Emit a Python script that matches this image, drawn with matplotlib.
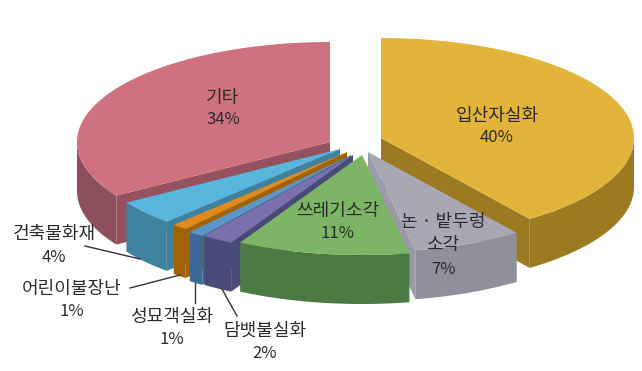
import numpy as np
import matplotlib as mpl
mpl.use('Agg')
import matplotlib.pyplot as plt
from matplotlib.patches import Polygon

plt.rcParams['font.family'] = ['Noto Sans CJK KR', 'DejaVu Sans']

# clockwise from 12 o'clock
names = ['입산자실화', '논 · 밭두렁\n소각', '쓰레기소각', '담뱃불실화', '성묘객실화', '어린이불장난', '건축물화재', '기타']
values = [40, 7, 11, 2, 1, 1, 4, 34]

# layout of the drawing, in pixels
top_colors = ['#e3b43c', '#a7a8b4', '#7cb565', '#7a70ad', '#5a97c9', '#e08a1e', '#58b5dc', '#cf727f']
side_colors = ['#9b7a22', '#8f9099', '#4b7a42', '#4a4a78', '#3b6a98', '#a36200', '#3e829f', '#8c505c']
cut_colors = ['#9b7a22', '#9a9aa8', '#4b7a42', '#4a4a78', '#3b6a98', '#a36200', '#3e829f', '#94525f']
shift_x = [381, 368, 362, 353, 351, 347, 340, 330]
shift_y = [138, 152, 155, 155, 155, 152, 149, 142]
rx = 253
ry = 100
depth = 49
label_x = [497, 443, 338, 265, 172, 72, 54, 223]
label_y = [116, 222, 211, 331, 317, 289, 234, 98]
pct_y = [138, 269, 233, 353, 340, 311, 257, 120]
lead_x = [(85, 140), (130, 180), (195, 195), (222, 237)]
lead_y = [(246, 259), (288, 275), (283, 303), (289, 316)]

fig = plt.figure(figsize=(6.42, 3.71), dpi=100)
ax = fig.add_axes([0, 0, 1, 1])
ax.set_xlim(0, 642)
ax.set_ylim(371, 0)
ax.axis('off')


def arc(i, a, b):
    t = np.radians(np.linspace(a, b, 80))
    return np.column_stack((shift_x[i] + rx*np.sin(t), shift_y[i] - ry*np.cos(t)))


def extrude(pts):
    low = pts[::-1] + np.array([0, depth])
    return np.vstack((pts, low))


edges = np.concatenate(([0], np.cumsum(values))) * 3.6
# back to front, gray before green so green hides the foot of the gray cut
order = [7, 0, 6, 5, 4, 3, 1, 2]
for z, i in enumerate(order):
    a, b = edges[i], edges[i+1]
    apex = np.array([shift_x[i], shift_y[i]])
    # only the cut with the top surface above it shows
    if b <= 180:
        cut = np.vstack((apex, arc(i, b, b)[0]))
        ax.add_patch(Polygon(extrude(cut), fc=cut_colors[i], ec='none', zorder=z+1))
    elif a >= 180:
        cut = np.vstack((apex, arc(i, a, a)[0]))
        ax.add_patch(Polygon(extrude(cut), fc=cut_colors[i], ec='none', zorder=z+1))
    lo, hi = max(a, 90), min(b, 270)
    if hi > lo:
        ax.add_patch(Polygon(extrude(arc(i, lo, hi)), fc=side_colors[i], ec='none', zorder=z+1))
    ax.add_patch(Polygon(np.vstack((apex, arc(i, a, b))), fc=top_colors[i], ec='none', zorder=z+1))

for lx, ly in zip(lead_x, lead_y):
    ax.plot(lx, ly, color='#333333', lw=1, zorder=20)

for i in range(len(values)):
    if '\n' in names[i]:
        first, second = names[i].split('\n')
        ax.text(label_x[i], label_y[i], first, ha='center', va='center', fontsize=13, color='#2b2b2b', zorder=30)
        ax.text(label_x[i], label_y[i]+23, second, ha='center', va='center', fontsize=13, color='#2b2b2b', zorder=30)
    else:
        ax.text(label_x[i], label_y[i], names[i], ha='center', va='center', fontsize=13, color='#2b2b2b', zorder=30)
    ax.text(label_x[i], pct_y[i], '%d%%' % values[i], ha='center', va='center', fontsize=12, color='#2b2b2b', zorder=30)

fig.savefig('out.png', dpi=100)
plt.close()
